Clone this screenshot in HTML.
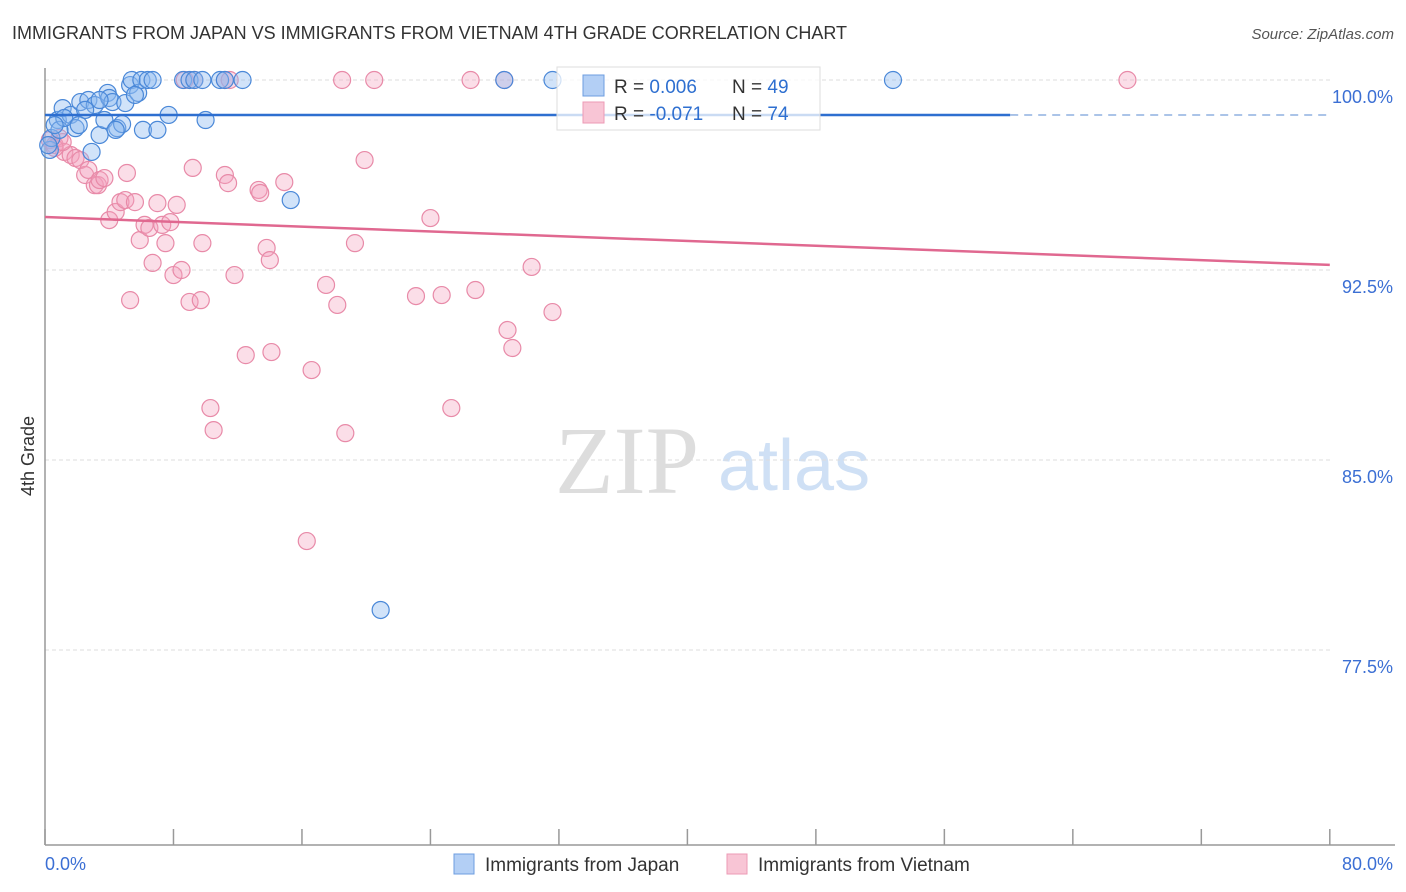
<!DOCTYPE html>
<html><head><meta charset="utf-8"><style>
body{margin:0;background:#fff;font-family:"Liberation Sans",sans-serif;}
#wrap{position:relative;width:1406px;height:892px;overflow:hidden;}
</style></head><body>
<div id="wrap">
<svg id="svg" width="1406" height="892" xmlns="http://www.w3.org/2000/svg">
<text x="12" y="39" font-size="18" fill="#333">IMMIGRANTS FROM JAPAN VS IMMIGRANTS FROM VIETNAM 4TH GRADE CORRELATION CHART</text>
<text x="1394" y="39" font-size="15" fill="#555" font-style="italic" text-anchor="end">Source: ZipAtlas.com</text>
<text x="555" y="493" font-size="96" fill="#ddd" font-family="Liberation Serif,serif">ZIP</text>
<text x="718" y="490" font-size="72" fill="#cfe0f5">atlas</text>
<text x="34" y="456" font-size="18" fill="#333" transform="rotate(-90 34 456)" text-anchor="middle">4th Grade</text>
<g id="grid"></g><g id="marks"></g>
</svg>
</div>
<script>
const yTicks=[100,92.5,85,77.5];
const yTickLabels=["100.0%","92.5%","85.0%","77.5%"];
const japanX=[0.3,0.4,0.8,1.1,1.6,2.2,2.7,3.1,1.9,3.4,2.9,3.7,3.9,4.0,4.2,4.5,4.8,5.0,5.3,5.4,5.8,6.0,6.4,6.7,6.1,7.0,7.7,8.6,9.0,9.3,9.8,10.0,10.9,11.2,12.3,15.3,20.9,28.6,31.6,52.8,0.9,0.2,2.5,5.6,4.4,1.2,0.6,2.1,3.4];
const japanY=[97.24,97.71,98.42,98.89,98.62,99.13,99.21,99.01,98.10,97.83,97.16,98.42,99.49,99.29,99.13,98.10,98.26,99.09,99.80,100,99.49,100,100,100,98.03,98.03,98.62,100,100,100,100,98.42,100,100,100,95.26,79.08,100,100,100,98.03,97.43,98.82,99.41,98.03,98.50,98.22,98.22,99.21];
const vietX=[0.3,0.6,0.9,1.2,1.6,1.9,2.2,2.5,2.7,3.1,3.3,3.4,3.7,4.0,4.4,4.7,5.0,5.1,5.3,5.6,5.9,6.2,6.5,6.7,7.0,7.3,7.5,7.8,8.0,8.2,8.5,9.0,9.2,9.7,9.8,10.3,10.5,11.2,11.4,11.8,12.5,13.3,13.4,13.8,14.0,14.1,14.9,16.6,17.5,18.2,18.7,19.3,19.9,23.1,24.0,24.7,25.3,26.8,28.8,29.1,30.3,31.6,16.3,18.5,20.5,26.5,28.6,67.4,8.7,9.3,11.2,11.5,0.6,1.1];
const vietY=[97.63,97.43,97.71,97.16,97.04,96.92,96.84,96.25,96.45,95.85,95.85,96.05,96.13,94.47,94.79,95.18,95.26,96.33,91.31,95.18,93.68,94.28,94.16,92.78,95.14,94.28,93.56,94.39,92.30,95.07,92.50,91.24,96.53,91.31,93.56,87.05,86.18,96.25,95.93,92.30,89.14,95.66,95.54,93.37,92.89,89.26,95.97,88.55,91.91,91.12,86.06,93.56,96.84,91.47,94.55,91.51,87.05,91.71,90.13,89.42,92.62,90.84,81.80,100,100,100,100,100,100,100,100,100,97.32,97.55];
const japanTrend=[98.62,98.62];
const vietTrend=[94.59,92.70];
const xs=v=>45+v*16.06, ys=v=>80+(100-v)*25.333;
const NS="http://www.w3.org/2000/svg";
const svg=document.getElementById('svg'),grid=document.getElementById('grid'),marks=document.getElementById('marks');
function mk(tag,attrs,parent){const e=document.createElementNS(NS,tag);for(const k in attrs)e.setAttribute(k,attrs[k]);parent.appendChild(e);return e;}
yTicks.forEach((t,i)=>{
 const l=mk('line',{x1:45,x2:1330,y1:ys(t),y2:ys(t),stroke:'#ddd','stroke-dasharray':'4,3'},grid);
 
 
 const tx=mk('text',{x:1393,y:ys(t)+23,'font-size':18,fill:'#3b6fd4','text-anchor':'end'},grid);
 tx.textContent=yTickLabels[i];
 
 
});
const ax=mk('line',{x1:45,x2:45,y1:68,y2:845,stroke:'#999','stroke-width':1.5},grid);


const bx=mk('line',{x1:45,x2:1395,y1:845,y2:845,stroke:'#999','stroke-width':1.5},grid);


for(let i=0;i<=10;i++){const tk=mk('line',{x1:xs(i*8),x2:xs(i*8),y1:829,y2:845,stroke:'#999','stroke-width':1.5},grid);
 
 }
[["0.0%",45,'start'],["80.0%",1393,'end']].forEach(a=>{const t=mk('text',{x:a[1],y:870,'font-size':18,fill:'#3b6fd4','text-anchor':a[2]},grid);t.textContent=a[0];
 
 });
vietX.forEach((x,i)=>{const c=mk('circle',{cx:xs(x),cy:ys(vietY[i]),r:8.5,fill:'rgba(244,160,190,0.35)',stroke:'#e88aa8','stroke-width':1.2},marks);
 
 });
japanX.forEach((x,i)=>{const c=mk('circle',{cx:xs(x),cy:ys(japanY[i]),r:8.5,fill:'rgba(140,185,240,0.4)',stroke:'#4a88d8','stroke-width':1.2},marks);
 
 });
const jl=mk('line',{x1:xs(0),x2:xs(60.1),y1:ys(japanTrend[0]),y2:ys(japanTrend[0]+(japanTrend[1]-japanTrend[0])*60.1/80),stroke:'#2e6fd0','stroke-width':2.5},marks);


const jd=mk('line',{x1:xs(60.1),x2:xs(80),y1:ys(japanTrend[0]),y2:ys(japanTrend[1]),stroke:'#8fb0e0','stroke-width':1.5,'stroke-dasharray':'8,6'},marks);


const vl=mk('line',{x1:xs(0),x2:xs(80),y1:ys(vietTrend[0]),y2:ys(vietTrend[1]),stroke:'#e06890','stroke-width':2.5},marks);


</script>
<svg style="position:absolute;left:0;top:0" width="1406" height="892">
<g>
<rect x="557" y="67" width="263" height="63" fill="rgba(255,255,255,0.75)" stroke="#ddd"/>
<rect x="583" y="75" width="21" height="21" fill="#b3cff5" stroke="#6d9de0"/>
<rect x="583" y="102" width="21" height="21" fill="#f8c5d5" stroke="#ec9ab5"/>
<text x="614" y="93" font-size="19" fill="#333">R = <tspan fill="#2e6fd0">0.006</tspan><tspan x="732">N = </tspan><tspan fill="#2e6fd0">49</tspan></text>
<text x="614" y="120" font-size="19" fill="#333">R = <tspan fill="#2e6fd0">-0.071</tspan><tspan x="732">N = </tspan><tspan fill="#2e6fd0">74</tspan></text>
</g>
<g>
<rect x="454" y="854" width="20" height="20" fill="#b3cff5" stroke="#6d9de0"/>
<text x="485" y="871" font-size="19" fill="#333">Immigrants from Japan</text>
<rect x="727" y="854" width="20" height="20" fill="#f8c5d5" stroke="#ec9ab5"/>
<text x="758" y="871" font-size="19" fill="#333">Immigrants from Vietnam</text>
</g>
</svg>
</body></html>
